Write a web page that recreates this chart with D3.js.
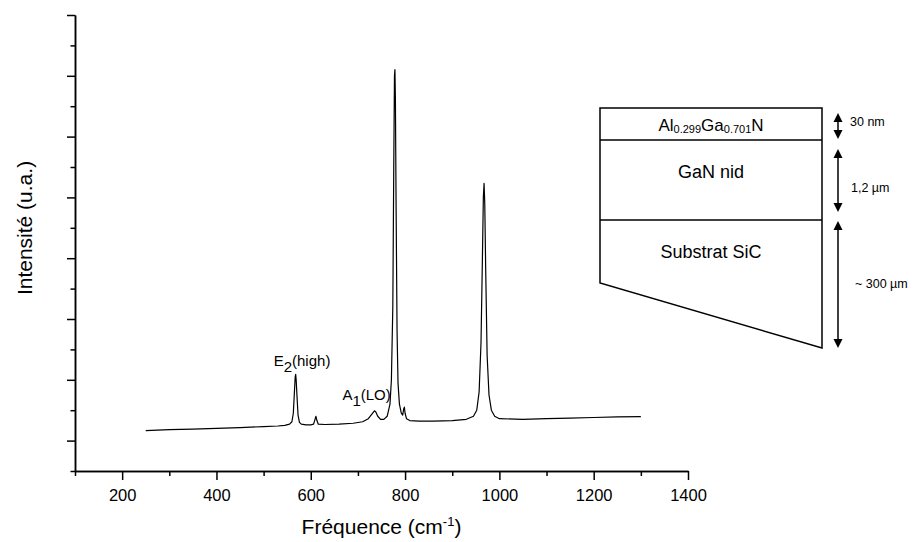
<!DOCTYPE html>
<html><head><meta charset="utf-8">
<script src="https://cdn.jsdelivr.net/npm/d3@7"></script>
<style>
html,body{margin:0;padding:0;background:#fff;}
svg text{font-family:"Liberation Sans",Arial,Helvetica,sans-serif;fill:#000;}
</style></head>
<body>
<svg id="c" width="914" height="542"></svg>
<script>
// Raman spectrum (frequency in cm-1, intensity in arbitrary units)
const freq = [250,300,350,400,450,500,530,545,555,560,563,565,567,568,569,571,573,576,580,590,600,606,609,611,613,616,630,660,690,710,722,730,735,738,742,748,755,762,768,771,774,776,777.5,778.5,779.5,781,783,785,788,792,795,797,798.5,800,803,810,830,860,900,930,945,952,957,961,964,966,967.5,969,971,974,978,983,990,1000,1050,1100,1150,1200,1250,1300];
const intensity = [0.165,0.18,0.19,0.20,0.215,0.23,0.24,0.25,0.27,0.31,0.45,0.75,1.05,1.09,1.0,0.7,0.42,0.3,0.27,0.26,0.26,0.27,0.35,0.40,0.33,0.27,0.265,0.27,0.285,0.31,0.36,0.44,0.49,0.47,0.40,0.35,0.35,0.40,0.60,1.0,2.2,4.5,6.0,6.1,5.6,3.8,1.8,0.95,0.6,0.45,0.42,0.52,0.55,0.45,0.36,0.33,0.32,0.32,0.33,0.35,0.40,0.50,0.80,1.6,3.0,4.0,4.23,3.9,2.8,1.4,0.75,0.5,0.4,0.36,0.35,0.36,0.37,0.38,0.39,0.395];
const xTicks = [200,400,600,800,1000,1200,1400];
const xMinor = [100,300,500,700,900,1100,1300];
const yMajor = [0,1,2,3,4,5,6,7];
const yMinor = [-0.5,0.5,1.5,2.5,3.5,4.5,5.5,6.5];
const peakLabels = [{main:"E",sub:"2",rest:"(high)",f:568},{main:"A",sub:"1",rest:"(LO)",f:735}];
const layers = ["GaN nid","Substrat SiC"];
const thickness = ["30 nm","1,2 µm","~ 300 µm"];

const svg = d3.select("#c");
const x = d3.scaleLinear().domain([100,1400]).range([75,688]);
const y = d3.scaleLinear().domain([-0.5,7]).range([471,15]);

const ff = "Liberation Sans, Arial, sans-serif";

// X axis
const gx = svg.append("g").attr("transform","translate(0,471)");
gx.call(d3.axisBottom(x).tickValues(xTicks).tickSize(9).tickSizeOuter(0).tickPadding(9).tickFormat(d3.format("d")));
gx.append("g").call(d3.axisBottom(x).tickValues(xMinor).tickSize(5).tickSizeOuter(0).tickFormat(""));
gx.selectAll("text").attr("font-size","16.5px").attr("font-family",ff).attr("fill","#000");
gx.selectAll("path,line").attr("stroke","#000").attr("stroke-width",1.5);

// Y axis
const gy = svg.append("g").attr("transform","translate(75,0)");
gy.call(d3.axisLeft(y).tickValues(yMajor).tickSize(8).tickSizeOuter(0).tickFormat(""));
gy.append("g").call(d3.axisLeft(y).tickValues(yMinor).tickSize(4.5).tickSizeOuter(0).tickFormat(""));
gy.selectAll("path,line").attr("stroke","#000").attr("stroke-width",1.5);

// Spectrum
const pts = freq.map((f,i)=>[f,intensity[i]]);
svg.append("path").datum(pts)
  .attr("fill","none").attr("stroke","#000").attr("stroke-width",1.2).attr("stroke-linejoin","round")
  .attr("d",d3.line().x(d=>x(d[0])).y(d=>y(d[1])));

// Peak labels
const lblPos = [{dx:-22,yb:366},{dx:-32,yb:400}];
peakLabels.forEach((p,i)=>{
  const t = svg.append("text").attr("x",x(p.f)+lblPos[i].dx).attr("y",lblPos[i].yb).attr("font-size","15px");
  t.append("tspan").text(p.main);
  t.append("tspan").attr("dy",6).text(p.sub);
  t.append("tspan").attr("dy",-6).text(p.rest);
});

// Axis titles
const xt = svg.append("text").attr("x",381.5).attr("y",534).attr("text-anchor","middle").attr("font-size","21px");
xt.append("tspan").text("Fréquence (cm");
xt.append("tspan").attr("dy",-8).attr("font-size","13px").text("-1");
xt.append("tspan").attr("dy",8).text(")");

svg.append("text").attr("transform","translate(32,228) rotate(-90)").attr("text-anchor","middle")
  .attr("font-size","21px").text("Intensité (u.a.)");

// Layer diagram
const L = 600, R = 822, T = 108, y1 = 140, y2 = 220, BL = 283, BR = 348;
const dg = svg.append("g").attr("stroke","#000").attr("stroke-width",1.5).attr("fill","none");
dg.append("path").attr("d",`M${L},${T}H${R}V${BR}L${L},${BL}Z`);
dg.append("line").attr("x1",L).attr("x2",R).attr("y1",y1).attr("y2",y1);
dg.append("line").attr("x1",L).attr("x2",R).attr("y1",y2).attr("y2",y2);

const cx = (L+R)/2;
const t1 = svg.append("text").attr("x",cx).attr("y",131).attr("text-anchor","middle").attr("font-size","17px");
t1.append("tspan").text("Al");
t1.append("tspan").attr("font-size","11px").attr("dy",2).text("0.299");
t1.append("tspan").attr("dy",-2).text("Ga");
t1.append("tspan").attr("font-size","11px").attr("dy",2).text("0.701");
t1.append("tspan").attr("dy",-2).text("N");
svg.append("text").attr("x",cx).attr("y",178).attr("text-anchor","middle").attr("font-size","18px").text(layers[0]);
svg.append("text").attr("x",cx).attr("y",258).attr("text-anchor","middle").attr("font-size","18px").text(layers[1]);

// Thickness arrows
const ax = 838;
const arrows = [[113,139,121],[149,212,187],[221,348,283]];
const labX = [850,851,855];
arrows.forEach((a,i)=>{
  svg.append("line").attr("x1",ax).attr("x2",ax).attr("y1",a[0]+6).attr("y2",a[1]-6).attr("stroke","#000").attr("stroke-width",1.5);
  svg.append("path").attr("d",`M${ax},${a[0]}L${ax-4.5},${a[0]+9}L${ax+4.5},${a[0]+9}Z`).attr("fill","#000");
  svg.append("path").attr("d",`M${ax},${a[1]}L${ax-4.5},${a[1]-9}L${ax+4.5},${a[1]-9}Z`).attr("fill","#000");
  svg.append("text").attr("x",labX[i]).attr("y",a[2]+4.5).attr("font-size","12.5px").text(thickness[i]);
});
</script>
</body></html>
